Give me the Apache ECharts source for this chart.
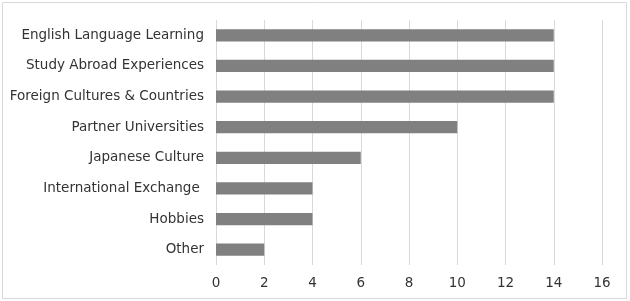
<!DOCTYPE html>
<html>
<head>
<meta charset="utf-8">
<script src="https://cdn.jsdelivr.net/npm/echarts@6/dist/echarts.min.js"></script>
<style>
  html, body { margin: 0; padding: 0; background: #fff; }
  #chart { width: 630px; height: 301px; }
</style>
</head>
<body>
<div id="chart"></div>
<script>
// categories bottom to top (category axis starts at the bottom)
var categories = ['Other', 'Hobbies', 'International Exchange ', 'Japanese Culture',
  'Partner Universities', 'Foreign Cultures & Countries', 'Study Abroad Experiences',
  'English Language Learning'];
var values = [2, 4, 4, 6, 10, 14, 14, 14];
var xTicks = [0, 2, 4, 6, 8, 10, 12, 14, 16];

var myChart = echarts.init(document.getElementById('chart'));
var options = {
  animation: false,
  graphic: [{
    type: 'rect',
    shape: { x: 2.5, y: 2.5, width: 624, height: 296 },
    style: { fill: 'none', stroke: '#d9d9d9', lineWidth: 1 },
    silent: true
  }],
  grid: { left: 216, right: 28, top: 20, bottom: 36 },
  xAxis: {
    type: 'value',
    min: xTicks[0],
    max: xTicks[xTicks.length - 1],
    interval: 2,
    axisLine: { show: false },
    axisTick: { show: false },
    axisLabel: { color: '#333', fontFamily: 'DejaVu Sans', fontSize: 13.5, margin: 11 },
    splitLine: { show: true, lineStyle: { color: '#d9d9d9', width: 1 } }
  },
  yAxis: {
    type: 'category',
    data: categories,
    axisLine: { show: false },
    axisTick: { show: false },
    axisLabel: { color: '#333', fontFamily: 'DejaVu Sans', fontSize: 13.5, margin: 12 }
  },
  series: [{
    type: 'bar',
    data: values,
    barWidth: '40%',
    itemStyle: { color: '#808080' }
  }]
};
myChart.setOption(options);
</script>
</body>
</html>
